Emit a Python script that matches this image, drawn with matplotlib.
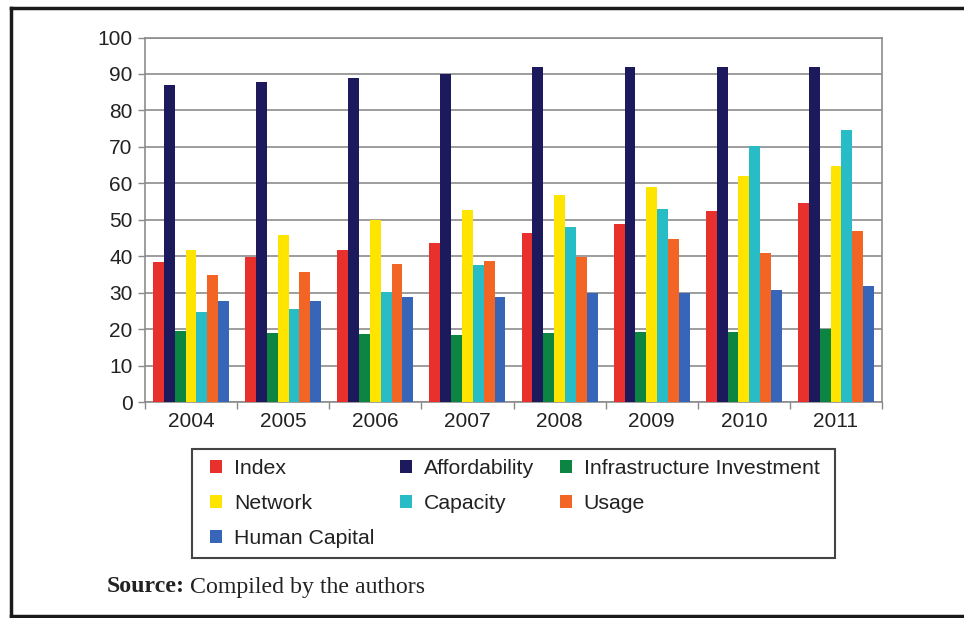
import numpy as np
import matplotlib.pyplot as plt
from matplotlib.lines import Line2D
from matplotlib.patches import Rectangle

plt.rcParams['font.family'] = ['Liberation Sans', 'DejaVu Sans']

years = ['2004', '2005', '2006', '2007', '2008', '2009', '2010', '2011']

index = [38.5, 39.7, 41.6, 43.7, 46.5, 48.8, 52.4, 54.7]
affordability = [86.9, 87.9, 88.9, 89.9, 91.9, 91.9, 92.0, 92.0]
infrastructure = [19.6, 19.0, 18.6, 18.3, 19.0, 19.1, 19.3, 20.0]
network = [41.8, 45.9, 49.8, 52.8, 56.8, 58.9, 61.9, 64.8]
capacity = [24.8, 25.4, 30.1, 37.7, 47.9, 53.0, 70.1, 74.5]
usage = [34.8, 35.8, 37.8, 38.8, 39.8, 44.8, 40.8, 46.9]
human_capital = [27.8, 27.8, 28.8, 28.8, 29.9, 29.9, 30.8, 31.8]

series = [
    ('Index', index, '#e8302c'),
    ('Affordability', affordability, '#1c1a5c'),
    ('Infrastructure Investment', infrastructure, '#0b8541'),
    ('Network', network, '#ffe400'),
    ('Capacity', capacity, '#27bcc6'),
    ('Usage', usage, '#f26524'),
    ('Human Capital', human_capital, '#3766b8'),
]

fs = 15
W, H = 964, 618

fig = plt.figure(figsize=(W / 100, H / 100), dpi=100)
ax = fig.add_axes([145 / W, 1 - 402 / H, (882 - 145) / W, (402 - 37.5) / H])

x = np.arange(len(years))
w = 0.118
bars = {}
for i, (name, vals, col) in enumerate(series):
    off = (i - 3) * w
    bars[name] = ax.bar(x + off, vals, w, color=col, label=name, zorder=3)

ax.set_xlim(-0.5, len(years) - 0.5)
ax.set_ylim(0, 100)
ax.set_yticks(range(0, 101, 10))
ax.set_xticks(x)
ax.set_xticklabels(years, fontsize=fs, color='#222222')
ax.tick_params(axis='y', labelsize=fs, labelcolor='#222222', length=5, color='#888888', width=1, pad=4)
ax.tick_params(axis='x', length=0, pad=7)
# small ticks between the year groups
ax.set_xticks(np.arange(-0.5, len(years)), minor=True)
ax.tick_params(axis='x', which='minor', length=5, color='#888888', width=1)
ax.grid(axis='y', color='#8c8c8c', linewidth=1.2, zorder=0)
for s in ax.spines.values():
    s.set_color('#8c8c8c')
    s.set_linewidth(1.2)

# legend reads row by row, matplotlib fills column by column
order = ['Index', 'Network', 'Human Capital', 'Affordability', 'Capacity',
         'Infrastructure Investment', 'Usage']
leg = fig.legend([bars[n] for n in order], order, ncol=3,
                 loc='upper left', bbox_to_anchor=(210 / W, 1 - 459 / H),
                 fontsize=15.3, frameon=False,
                 handlelength=0.58, handleheight=0.58, handletextpad=0.55,
                 columnspacing=1.2, labelspacing=0.75, borderpad=0,
                 borderaxespad=0)
for t in leg.get_texts():
    t.set_color('#222222')
# legend box drawn separately so the side padding can differ from the top
fig.add_artist(Rectangle((192 / W, 1 - 558 / H), (835 - 192) / W, (558 - 449) / H,
                         transform=fig.transFigure, fill=False,
                         edgecolor='#444444', linewidth=1.5))

# source note: bold label followed by plain text
src = fig.text(107 / W, 1 - 587 / H, 'Source:', fontsize=17.2, fontweight='bold',
               family='Liberation Serif', va='center', color='#222222')
fig.canvas.draw()
bb = src.get_window_extent()
fig.text(bb.x1 + 5, bb.y0 + bb.height / 2, 'Compiled by the authors', fontsize=17.2,
         family='Liberation Serif', va='center', color='#222222', transform=None)

# outer border lines
fig.add_artist(Line2D([11 / W, 11 / W], [1 - 8 / H, 1 - 616 / H], color='#1a1a1a', lw=2.5))
fig.add_artist(Line2D([11 / W, 1.0], [1 - 8 / H, 1 - 8 / H], color='#1a1a1a', lw=2.5))
fig.add_artist(Line2D([11 / W, 1.0], [1 - 616 / H, 1 - 616 / H], color='#1a1a1a', lw=2.5))

fig.savefig('out.png', dpi=100)
